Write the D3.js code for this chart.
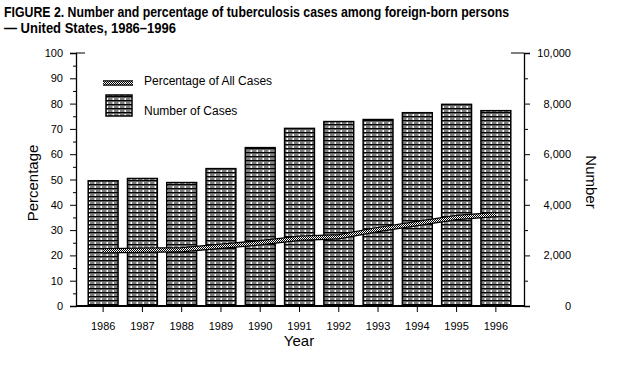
<!DOCTYPE html>
<html>

<head>
    <title>Tuberculosis cases among foreign-born persons</title>
    <script src="https://d3js.org/d3.v7.min.js"></script>
    <style>
        body { margin: 0; background: #fff; }
        text { font-family: "Liberation Sans", Arial, sans-serif; fill: #000; }
    </style>
</head>

<body>
    <svg id="chart"></svg>

    <script>
        // Data
        const years = ['1986', '1987', '1988', '1989', '1990', '1991', '1992', '1993', '1994', '1995', '1996'];
        const cases = [4950, 5040, 4880, 5430, 6260, 7020, 7290, 7370, 7640, 7970, 7720];
        const percent = [21.8, 22.0, 22.2, 23.6, 25.0, 26.8, 27.4, 30.2, 32.6, 35.0, 36.2];
        const pctTicks = [0, 10, 20, 30, 40, 50, 60, 70, 80, 90, 100];
        const numTicks = [0, 2000, 4000, 6000, 8000, 10000];

        const width = 626;
        const height = 377;
        const plotLeft = 76, plotRight = 524, plotTop = 53, plotBottom = 306;

        const svg = d3.select('#chart')
            .attr('width', width)
            .attr('height', height);

        // Fill patterns
        const defs = svg.append('defs');

        const brick = defs.append('pattern')
            .attr('id', 'brick')
            .attr('patternUnits', 'userSpaceOnUse')
            .attr('width', 12)
            .attr('height', 4);
        brick.append('rect').attr('width', 12).attr('height', 4).attr('fill', '#fff');
        brick.append('rect').attr('y', 0).attr('width', 12).attr('height', 1.6).attr('fill', '#000');
        brick.append('rect').attr('x', 0).attr('y', 2.5).attr('width', 4.5).attr('height', 1).attr('fill', '#000');
        brick.append('rect').attr('x', 6).attr('y', 2.5).attr('width', 4.5).attr('height', 1).attr('fill', '#000');

        const checker = defs.append('pattern')
            .attr('id', 'checker')
            .attr('patternUnits', 'userSpaceOnUse')
            .attr('width', 2)
            .attr('height', 2);
        checker.append('rect').attr('width', 2).attr('height', 2).attr('fill', '#fff');
        checker.append('rect').attr('x', 0).attr('y', 0).attr('width', 1).attr('height', 1).attr('fill', '#000');
        checker.append('rect').attr('x', 1).attr('y', 1).attr('width', 1).attr('height', 1).attr('fill', '#000');

        // Scales
        const x = d3.scaleBand()
            .domain(years)
            .range([83.5, 515.5])
            .paddingInner(0.24)
            .paddingOuter(0.12);

        const yPct = d3.scaleLinear().domain([0, 100]).range([plotBottom, plotTop]);
        const yNum = d3.scaleLinear().domain([0, 10000]).range([plotBottom, plotTop]);

        // Title
        svg.append('text')
            .attr('x', 4).attr('y', 17)
            .attr('font-size', 15).attr('font-weight', 'bold')
            .attr('textLength', 505).attr('lengthAdjust', 'spacingAndGlyphs')
            .text('FIGURE 2. Number and percentage of tuberculosis cases among foreign-born persons');
        svg.append('text')
            .attr('x', 4).attr('y', 33)
            .attr('font-size', 15).attr('font-weight', 'bold')
            .attr('textLength', 172).attr('lengthAdjust', 'spacingAndGlyphs')
            .text('\u2014 United States, 1986\u20131996');

        // Bars
        svg.selectAll('.bar')
            .data(years)
            .enter()
            .append('rect')
            .attr('class', 'bar')
            .attr('x', d => x(d))
            .attr('width', x.bandwidth())
            .attr('y', (d, i) => yNum(cases[i]))
            .attr('height', (d, i) => yNum(0) - yNum(cases[i]))
            .attr('fill', 'url(#brick)')
            .attr('stroke', '#000')
            .attr('stroke-width', 1.5);

        // Percentage line: dark band with a checkered core
        const line = d3.line()
            .x((d, i) => x(years[i]) + x.bandwidth() / 2)
            .y(d => yPct(d));

        svg.append('path')
            .datum(percent)
            .attr('d', line)
            .attr('fill', 'none')
            .attr('stroke', '#000')
            .attr('stroke-width', 5.5);
        svg.append('path')
            .datum(percent)
            .attr('d', line)
            .attr('fill', 'none')
            .attr('stroke', 'url(#checker)')
            .attr('stroke-width', 3);

        // Left axis
        const leftAxis = svg.append('g')
            .attr('transform', `translate(${plotLeft},0)`)
            .call(d3.axisLeft(yPct).tickValues(pctTicks).tickSize(6).tickPadding(7));
        svg.append('g')
            .attr('transform', `translate(${plotLeft},0)`)
            .call(d3.axisLeft(yPct).tickValues(pctTicks.slice(1).map(v => v - 5)).tickSize(3).tickFormat(''))
            .select('.domain').remove();

        // Right axis
        const rightAxis = svg.append('g')
            .attr('transform', `translate(${plotRight},0)`)
            .call(d3.axisRight(yNum).tickValues(numTicks).tickSize(6).tickFormat(d3.format(',')));
        rightAxis.selectAll('text')
            .attr('x', 47)
            .attr('text-anchor', 'end');
        svg.append('g')
            .attr('transform', `translate(${plotRight},0)`)
            .call(d3.axisRight(yNum).tickValues(numTicks.slice(1).map(v => v - 1000)).tickSize(4).tickFormat(''))
            .select('.domain').remove();

        [leftAxis, rightAxis].forEach(g => {
            g.select('.domain').attr('stroke-width', 1.3);
            g.selectAll('text').attr('font-size', 11).attr('font-family', '"Liberation Sans", Arial, sans-serif');
        });

        // Ticks crossing into the plot at the top of each axis
        svg.append('line')
            .attr('x1', plotLeft).attr('x2', plotLeft + 9)
            .attr('y1', yPct(100)).attr('y2', yPct(100))
            .attr('stroke', '#000');
        svg.append('line')
            .attr('x1', plotRight - 13).attr('x2', plotRight)
            .attr('y1', yNum(10000)).attr('y2', yNum(10000))
            .attr('stroke', '#000');

        // Bottom axis
        const bottomAxis = svg.append('g')
            .attr('transform', `translate(0,${plotBottom})`)
            .call(d3.axisBottom(x).tickSize(6).tickPadding(10));
        bottomAxis.select('.domain').remove();
        bottomAxis.selectAll('text').attr('font-size', 11).attr('font-family', '"Liberation Sans", Arial, sans-serif');
        svg.append('line')
            .attr('x1', plotLeft).attr('x2', plotRight)
            .attr('y1', plotBottom).attr('y2', plotBottom)
            .attr('stroke', '#000')
            .attr('stroke-width', 2);

        // Axis titles
        svg.append('text')
            .attr('transform', 'translate(38,183) rotate(-90)')
            .attr('text-anchor', 'middle')
            .attr('font-size', 15)
            .text('Percentage');
        svg.append('text')
            .attr('transform', 'translate(586,182) rotate(90)')
            .attr('text-anchor', 'middle')
            .attr('font-size', 15)
            .text('Number');
        svg.append('text')
            .attr('x', 299).attr('y', 346)
            .attr('text-anchor', 'middle')
            .attr('font-size', 15)
            .text('Year');

        // Legend
        const legend = svg.append('g');
        legend.append('line')
            .attr('x1', 103).attr('x2', 133).attr('y1', 83).attr('y2', 83)
            .attr('stroke', '#000').attr('stroke-width', 5.5);
        legend.append('line')
            .attr('x1', 103).attr('x2', 133).attr('y1', 83).attr('y2', 83)
            .attr('stroke', 'url(#checker)').attr('stroke-width', 3);
        legend.append('text')
            .attr('x', 144).attr('y', 85)
            .attr('font-size', 12)
            .text('Percentage of All Cases');
        legend.append('rect')
            .attr('x', 106).attr('y', 95).attr('width', 26).attr('height', 21)
            .attr('fill', 'url(#brick)').attr('stroke', '#000').attr('stroke-width', 1.5);
        legend.append('text')
            .attr('x', 144).attr('y', 115)
            .attr('font-size', 12)
            .text('Number of Cases');
    </script>
</body>

</html>
